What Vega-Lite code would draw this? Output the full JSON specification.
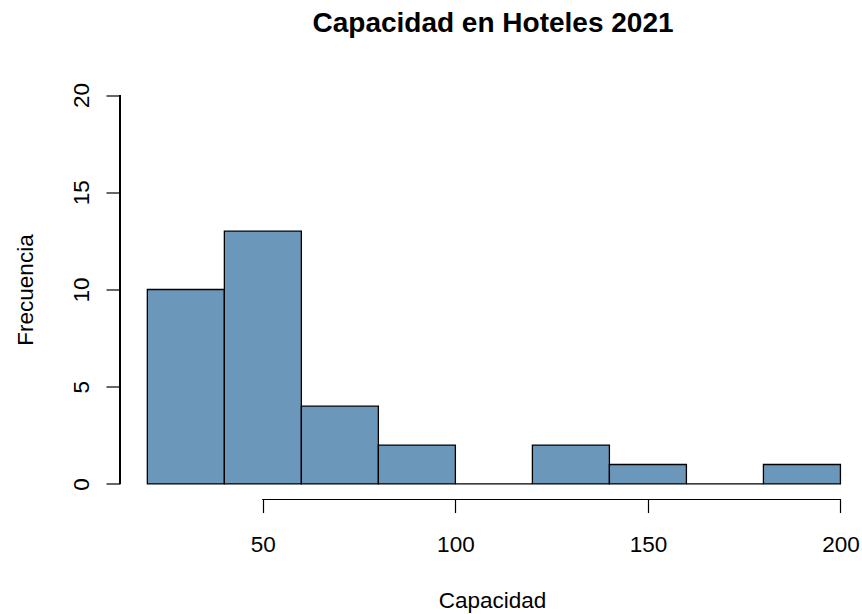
{
  "$schema": "https://vega.github.io/schema/vega-lite/v6.json",
  "width": 742,
  "height": 420,
  "autosize": {"type": "none"},
  "padding": {"left": 120, "top": 79.5, "right": 0, "bottom": 114.5},
  "background": "white",
  "title": {
    "text": "Capacidad en Hoteles 2021",
    "font": "Liberation Sans",
    "fontSize": 28,
    "fontWeight": "bold",
    "color": "black",
    "anchor": "middle",
    "baseline": "alphabetic",
    "offset": 20,
    "dx": 2
  },
  "config": {
    "view": {"stroke": null},
    "axis": {
      "grid": false,
      "domain": false,
      "ticks": true,
      "tickColor": "black",
      "tickWidth": 1.2,
      "labelFont": "Liberation Sans",
      "labelFontSize": 22.5,
      "labelColor": "black",
      "titleFont": "Liberation Sans",
      "titleFontSize": 22.5,
      "titleFontWeight": "normal",
      "titleColor": "black"
    }
  },
  "data": {
    "values": [
      {"inicio": 20, "fin": 40, "frecuencia": 10},
      {"inicio": 40, "fin": 60, "frecuencia": 13},
      {"inicio": 60, "fin": 80, "frecuencia": 4},
      {"inicio": 80, "fin": 100, "frecuencia": 2},
      {"inicio": 100, "fin": 120, "frecuencia": 0},
      {"inicio": 120, "fin": 140, "frecuencia": 2},
      {"inicio": 140, "fin": 160, "frecuencia": 1},
      {"inicio": 160, "fin": 180, "frecuencia": 0},
      {"inicio": 180, "fin": 200, "frecuencia": 1}
    ]
  },
  "layer": [
    {
      "mark": {"type": "bar", "fill": "#6B97BB", "stroke": "black", "strokeWidth": 1.3, "opacity": 1},
      "encoding": {
        "x": {
          "field": "inicio",
          "type": "quantitative",
          "scale": {"domain": [12.9, 205.6], "nice": false, "zero": false},
          "axis": {
            "values": [50, 100, 150, 200],
            "tickSize": 13,
            "labelPadding": 39,
            "labelBaseline": "alphabetic",
            "labelAlign": "center",
            "title": "Capacidad",
            "titleX": 372,
            "titleY": 107.5,
            "titleAlign": "center",
            "titleBaseline": "alphabetic",
            "titleAngle": 0
          }
        },
        "x2": {"field": "fin"},
        "y": {
          "field": "frecuencia",
          "type": "quantitative",
          "scale": {"domain": [-0.8, 20.8], "nice": false, "zero": false},
          "axis": {
            "values": [0, 5, 10, 15, 20],
            "tickSize": 14,
            "labelAngle": -90,
            "labelAlign": "center",
            "labelBaseline": "alphabetic",
            "labelPadding": 18,
            "title": "Frecuencia",
            "titleX": -88,
            "titleY": 210,
            "titleAngle": 270,
            "titleAlign": "center",
            "titleBaseline": "alphabetic"
          }
        },
        "y2": {"datum": 0}
      }
    },
    {
      "mark": {"type": "rule", "color": "black", "strokeWidth": 1.2},
      "encoding": {
        "x": {"datum": 12.9},
        "y": {"datum": 0},
        "y2": {"datum": 20}
      }
    },
    {
      "mark": {"type": "rule", "color": "black", "strokeWidth": 1.2},
      "encoding": {
        "y": {"datum": -0.8},
        "x": {"datum": 50},
        "x2": {"datum": 200}
      }
    }
  ]
}
